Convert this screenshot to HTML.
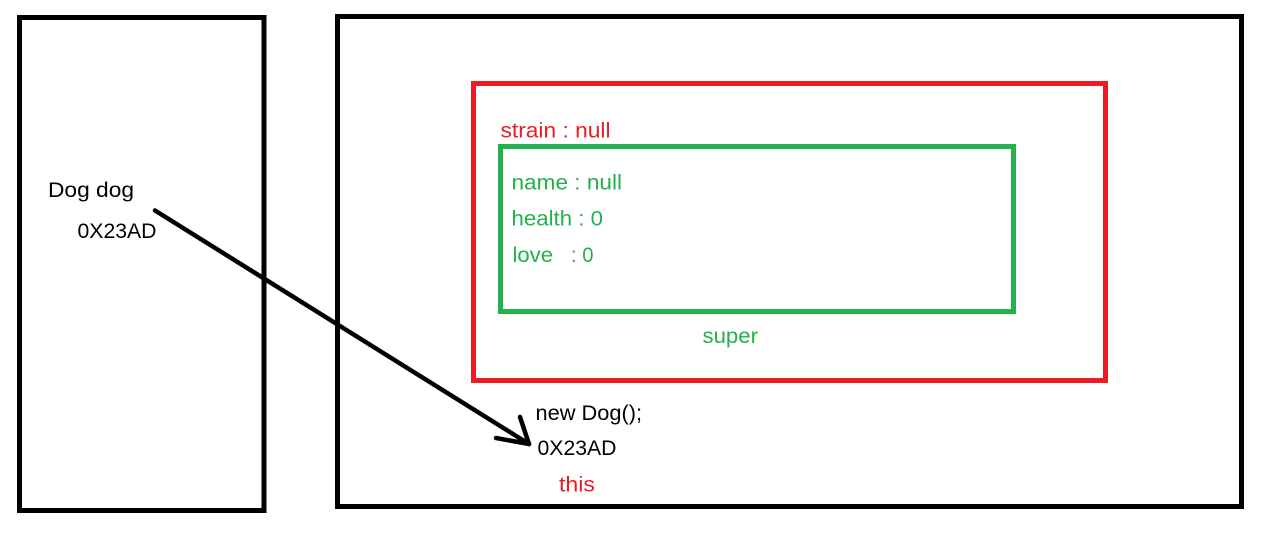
<!DOCTYPE html>
<html>
<head>
<meta charset="utf-8">
<style>
  html, body { margin: 0; padding: 0; background: #fff; }
  svg { display: block; }
  text { font-family: "Liberation Sans", "Noto Sans CJK SC", sans-serif; font-size: 21px; }
</style>
</head>
<body>
<svg width="1261" height="534" viewBox="0 0 1261 534" xmlns="http://www.w3.org/2000/svg">
  <rect x="0" y="0" width="1261" height="534" fill="#fff"/>
  <!-- left stack box -->
  <rect x="19.5" y="17.5" width="244.5" height="493" fill="none" stroke="#000" stroke-width="5"/>
  <!-- right heap box -->
  <rect x="337.5" y="16.5" width="904" height="490" fill="none" stroke="#000" stroke-width="5"/>
  <!-- red box -->
  <rect x="473.5" y="83.5" width="632" height="297" fill="none" stroke="#ED1C24" stroke-width="5"/>
  <!-- green box -->
  <rect x="500.5" y="146.5" width="513" height="165" fill="none" stroke="#22B14C" stroke-width="5"/>

  <!-- arrow -->
  <g stroke="#000" stroke-width="4.5" stroke-linecap="round" fill="none">
    <line x1="155" y1="210.5" x2="529" y2="444"/>
    <line x1="520" y1="417" x2="529" y2="444"/>
    <line x1="496" y1="438" x2="529" y2="444"/>
  </g>

  <!-- left texts -->
  <text x="48" y="197" fill="#000" textLength="86" lengthAdjust="spacingAndGlyphs">Dog dog</text>
  <text x="77.5" y="238" fill="#000" textLength="79" lengthAdjust="spacingAndGlyphs">0X23AD</text>

  <!-- red text -->
  <text x="500.5" y="137.5" fill="#ED1C24" textLength="110" lengthAdjust="spacingAndGlyphs">strain : null</text>

  <!-- green texts -->
  <text x="511.5" y="189.5" fill="#22B14C" textLength="110.5" lengthAdjust="spacingAndGlyphs">name : null</text>
  <text x="511.5" y="225.5" fill="#22B14C" textLength="91.5" lengthAdjust="spacingAndGlyphs">health : 0</text>
  <text x="512.5" y="262" fill="#22B14C" textLength="40.5" lengthAdjust="spacingAndGlyphs">love</text>
  <text x="571" y="262" fill="#22B14C" textLength="22.5" lengthAdjust="spacingAndGlyphs">: 0</text>
  <text x="702.5" y="343" fill="#22B14C" textLength="55.5" lengthAdjust="spacingAndGlyphs">super</text>

  <!-- bottom texts -->
  <text x="535.5" y="420" fill="#000" textLength="106.5" lengthAdjust="spacingAndGlyphs">new Dog();</text>
  <text x="537.5" y="455" fill="#000" textLength="79" lengthAdjust="spacingAndGlyphs">0X23AD</text>
  <text x="559" y="491.5" fill="#ED1C24" textLength="36" lengthAdjust="spacingAndGlyphs">this</text>
</svg>
</body>
</html>
